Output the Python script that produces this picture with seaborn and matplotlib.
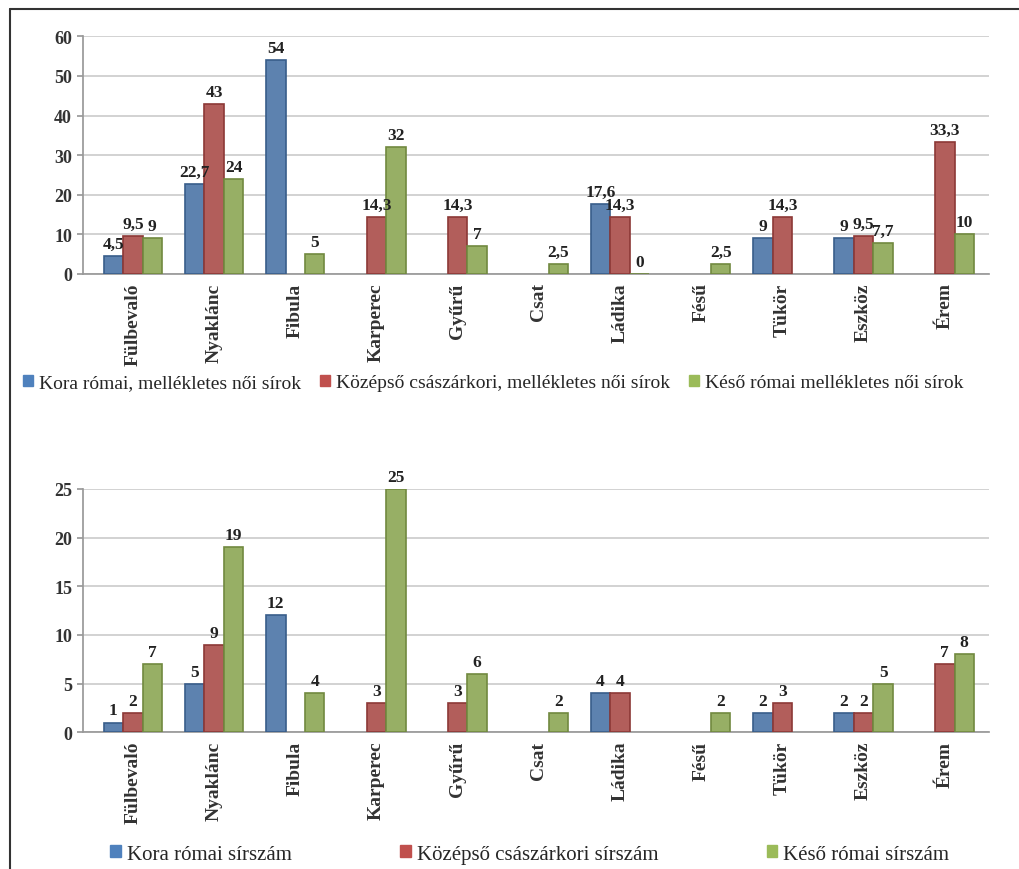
import numpy as np
import pandas as pd
import matplotlib.pyplot as plt
import seaborn as sns
from matplotlib.lines import Line2D
from matplotlib.patches import Patch

# categories (grave goods)
targyak = ['Fülbevaló', 'Nyaklánc', 'Fibula', 'Karperec', 'Gyűrű', 'Csat',
           'Ládika', 'Fésű', 'Tükör', 'Eszköz', 'Érem']
nan = np.nan

# top chart: percentages, mellékletes női sírok
felso_kora = [4.5, 22.7, 54, nan, nan, nan, 17.6, nan, 9, 9, nan]
felso_kozepso = [9.5, 43, nan, 14.3, 14.3, nan, 14.3, nan, 14.3, 9.5, 33.3]
felso_keso = [9, 24, 5, 32, 7, 2.5, 0, 2.5, nan, 7.7, 10]
felso_cimkek = ['Kora római, mellékletes női sírok',
                'Középső császárkori, mellékletes női sírok',
                'Késő római mellékletes női sírok']

# bottom chart: grave counts
also_kora = [1, 5, 12, nan, nan, nan, 4, nan, 2, 2, nan]
also_kozepso = [2, 9, nan, 3, 3, nan, 4, nan, 3, 2, 7]
also_keso = [7, 19, 4, 25, 6, 2, nan, 2, nan, 5, 8]
also_cimkek = ['Kora római sírszám', 'Középső császárkori sírszám',
               'Késő római sírszám']

szinek = ['#4F81BD', '#C0504D', '#9BBB59']
szelek = ['#385D8A', '#8C3836', '#71893F']


def long_df(series, names):
    rows = []
    for s, n in zip(series, names):
        for t, v in zip(targyak, s):
            if not np.isnan(v):
                rows.append({'targy': t, 'csoport': n, 'ertek': v})
    return pd.DataFrame(rows)


def fmt(v):
    return f'{v:g}'.replace('.', ',')


sns.set_theme(style='white')
plt.rcParams['font.family'] = ['Liberation Serif', 'DejaVu Serif']

fig = plt.figure(figsize=(10.19, 8.7), dpi=100)
ax1 = fig.add_axes([0.081, 0.684, 0.89, 0.273])
ax2 = fig.add_axes([0.081, 0.157, 0.89, 0.280])


def draw(ax, series, names, ymax, step):
    df = long_df(series, names)
    sns.barplot(data=df, x='targy', y='ertek', hue='csoport', order=targyak,
                hue_order=names, palette=szinek, width=0.72, legend=False,
                ax=ax, zorder=3)
    for cont, ec in zip(ax.containers, szelek):
        for p in cont:
            p.set_edgecolor(ec)
            p.set_linewidth(1.2)
        ax.bar_label(cont, labels=[fmt(v) for v in cont.datavalues],
                     padding=3, fontsize=12.5, fontweight='bold', color='#222222')
    ax.set_ylim(0, ymax)
    ax.set_yticks(np.arange(0, ymax + 1, step))
    ax.set_xlim(-0.62, 10.55)
    ax.yaxis.grid(True, color='#cfcfcf', linewidth=1.3)
    ax.set_axisbelow(True)
    for s in ['top', 'right']:
        ax.spines[s].set_visible(False)
    ax.spines['left'].set_color('#999999')
    ax.spines['bottom'].set_color('#999999')
    ax.set_xlabel('')
    ax.set_ylabel('')
    ax.tick_params(axis='x', rotation=90, labelsize=14, length=0, pad=6)
    ax.tick_params(axis='y', labelsize=13, length=4, left=True, color='#999999')
    for lbl in ax.get_yticklabels() + ax.get_xticklabels():
        lbl.set_fontweight('bold')
        lbl.set_color('#333333')


draw(ax1, [felso_kora, felso_kozepso, felso_keso], felso_cimkek, 60, 10)
draw(ax2, [also_kora, also_kozepso, also_keso], also_cimkek, 25, 5)

h1 = [Patch(facecolor=c, edgecolor=c) for c in szinek]
fig.legend(h1, felso_cimkek, loc='center left', bbox_to_anchor=(0.015, 0.559),
           ncol=3, frameon=False, fontsize=14, handlelength=0.5,
           handleheight=0.5, handletextpad=0.3, columnspacing=1.0,
           borderaxespad=0)
fig.legend(h1, also_cimkek, loc='center left', bbox_to_anchor=(0.1, 0.017),
           ncol=3, frameon=False, fontsize=15, handlelength=0.5,
           handleheight=0.5, handletextpad=0.3, columnspacing=5.2,
           borderaxespad=0)

# scanned frame: top and left border lines
fig.add_artist(Line2D([0.01, 0.01], [0.0, 0.989], color='#333333', lw=1.5))
fig.add_artist(Line2D([0.01, 1.0], [0.989, 0.989], color='#333333', lw=1.5))

fig.savefig('out.png', dpi=100)
